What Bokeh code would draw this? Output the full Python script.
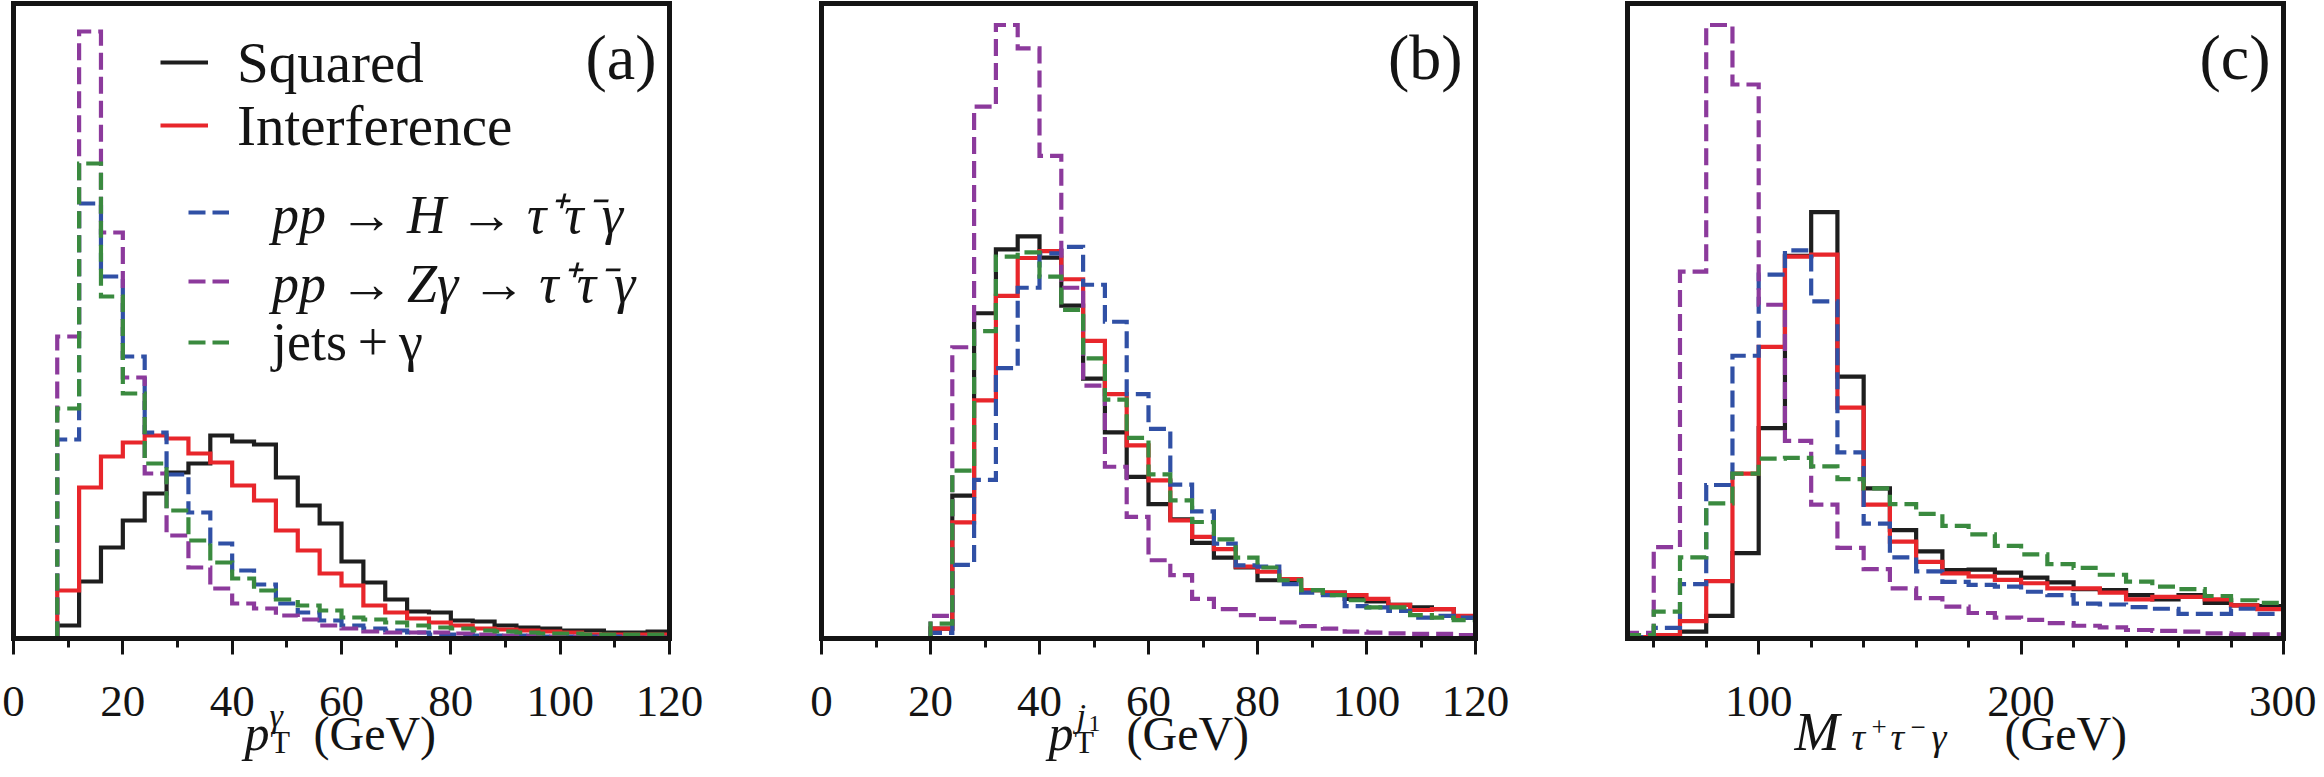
from bokeh.plotting import figure
from bokeh.models import Range1d, FixedTicker, Label, Legend, LegendItem, BoxAnnotation
from bokeh.layouts import row
from bokeh.embed import file_html
from bokeh.resources import INLINE

# ---------------- data (arbitrary units) ----------------
# (a) photon pT, 4 GeV bins from 8 to 120 GeV
a_edges = list(range(8, 124, 4))
a_squared = [13, 57, 91, 118, 145, 166, 175, 203, 197, 194, 161, 133, 115, 77,
             56, 39, 27, 26, 18, 17, 13, 11, 10, 8, 8, 6, 6, 7]
a_interf = [48, 151, 182, 196, 203, 200, 185, 176, 153, 138, 108, 88, 65, 53,
            33, 26, 20, 16, 13, 10, 9, 8, 7, 6, 4, 4, 4, 4]
a_higgs = [199, 435, 362, 282, 206, 164, 126, 95, 68, 54, 35, 26, 18, 13,
           10, 8, 6, 4, 4, 3, 3, 3, 2, 2, 2, 2, 1, 1]
a_zgam = [302, 607, 406, 261, 165, 103, 71, 50, 35, 30, 23, 19, 13, 10,
          7, 6, 6, 6, 5, 4, 3, 3, 2, 2, 2, 1, 1, 1]
a_jets = [230, 475, 342, 245, 175, 128, 98, 76, 60, 48, 39, 33, 28, 21,
          19, 16, 13, 11, 10, 8, 7, 6, 5, 5, 4, 4, 4, 4]

# (b) leading-jet pT, 4 GeV bins from 20 to 120 GeV
b_edges = list(range(20, 124, 4))
b_squared = [23, 336, 765, 915, 946, 896, 783, 611, 485, 380, 316, 280, 225,
             190, 167, 137, 137, 114, 108, 93, 87, 79, 73, 69, 49]
b_interf = [23, 273, 560, 806, 895, 911, 845, 700, 575, 454, 372, 278, 239,
            210, 169, 157, 140, 114, 108, 102, 93, 79, 67, 69, 53]
b_higgs = [13, 173, 373, 636, 825, 906, 921, 832, 745, 575, 493, 362, 299,
           223, 172, 169, 128, 108, 102, 76, 73, 65, 49, 53, 49]
b_zgam = [53, 685, 1251, 1443, 1388, 1135, 825, 595, 404, 286, 184, 149, 93,
          69, 55, 46, 38, 29, 23, 16, 14, 12, 11, 11, 8]
b_jets = [35, 395, 723, 898, 908, 851, 773, 659, 562, 472, 386, 325, 274,
          233, 190, 167, 137, 114, 102, 90, 73, 73, 55, 49, 43]

# (c) M(tau+ tau- gamma), 10 GeV bins from 50 to 300 GeV
c_edges = list(range(50, 310, 10))
c_squared = [2, 3, 16, 53, 201, 495, 900, 1003, 616, 353, 255, 205, 161, 162,
             155, 143, 132, 116, 114, 102, 92, 102, 84, 78, 76]
c_interf = [3, 8, 41, 135, 388, 686, 898, 903, 543, 315, 228, 180, 153, 146,
            138, 130, 118, 118, 108, 92, 98, 98, 92, 78, 69]
c_higgs = [3, 25, 128, 361, 665, 856, 913, 793, 438, 270, 191, 158, 133, 126,
           122, 110, 102, 82, 80, 74, 70, 58, 58, 70, 58]
c_zgam = [13, 215, 863, 1443, 1303, 785, 465, 315, 213, 163, 118, 95, 75, 60,
          49, 44, 36, 30, 26, 20, 18, 16, 12, 10, 10]
c_jets = [8, 63, 191, 318, 388, 423, 425, 405, 375, 353, 316, 293, 265, 245,
          218, 198, 175, 166, 150, 134, 122, 116, 100, 90, 84]

a_ticks = [0, 20, 40, 60, 80, 100, 120]
a_minor = [10, 30, 50, 70, 90, 110]
c_ticks = [100, 200, 300]
c_minor = [60, 80, 120, 140, 160, 180, 220, 240, 260, 280]

labels = ["Squared", "Interference", "pp \u2192 H \u2192 \u03c4\u207a\u03c4\u207b\u03b3",
          "pp \u2192 Z\u03b3 \u2192 \u03c4\u207a\u03c4\u207b\u03b3", "jets\u2009+\u2009\u03b3"]

# ---------------- style / geometry ----------------
FONT = "Liberation Serif"
INK = "#141414"
COLORS = ["#1e1e1e", "#e8262b", "#3050a5", "#8c3a9c", "#3a8a3f"]
DASHES = ["solid", "solid", "17 7", "17 7", "17 7"]
LW = 4.2
PAGE_TOP, PAGE_BOT = 8, 769     # canvas top / bottom (page px)
BASE_Y, BOX_TOP = 646, 11       # x-axis line and top of the box (page px)


def step_xy(edges, vals):
    xs, ys = [edges[0]], [0]
    for i, v in enumerate(vals):
        xs += [edges[i], edges[i + 1]]
        ys += [v, v]
    return xs, ys


def make_panel(edges, series, xr, yscale, ticks, minor, box_l, box_r,
               pad_l, pad_r, left, right):
    ux = (xr[1] - xr[0]) / (box_r - box_l)
    p = figure(frame_width=box_r - box_l + pad_l + pad_r,
               frame_height=PAGE_BOT - PAGE_TOP,
               min_border_left=left, min_border_right=right,
               min_border_top=0, min_border_bottom=0,
               x_range=Range1d(xr[0] - pad_l * ux, xr[1] + pad_r * ux),
               y_range=Range1d(-(PAGE_BOT - BASE_Y) * yscale, (BASE_Y - PAGE_TOP) * yscale),
               y_axis_type=None, title=None, toolbar_location=None,
               output_backend="svg")
    p.background_fill_color = "white"
    p.border_fill_color = "white"
    p.outline_line_color = None
    p.grid.visible = False
    ax = p.xaxis[0]
    ax.fixed_location = 0
    ax.bounds = xr
    ax.ticker = FixedTicker(ticks=ticks, minor_ticks=minor)
    ax.axis_line_color = INK
    ax.axis_line_width = 5
    ax.major_tick_line_width = 3
    ax.minor_tick_line_width = 3
    ax.major_tick_line_color = INK
    ax.minor_tick_line_color = INK
    ax.major_tick_in = 0
    ax.major_tick_out = 16
    ax.minor_tick_in = 0
    ax.minor_tick_out = 9
    ax.major_label_text_font = FONT
    ax.major_label_text_font_size = "45px"
    ax.major_label_text_color = INK
    ax.major_label_standoff = 32
    rends = []
    for vals, col, dash in zip(series, COLORS, DASHES):
        xs, ys = step_xy(edges, vals)
        r = p.line(xs, ys, line_color=col, line_width=LW, line_dash=dash,
                   line_join="miter")
        rends.append(r)
    p.add_layout(BoxAnnotation(left=xr[0], right=xr[1], bottom=0,
                               top=(BASE_Y - BOX_TOP) * yscale, fill_alpha=0,
                               line_color=INK, line_alpha=1.0, line_width=5,
                               line_join="miter"))
    return p, rends, box_l - pad_l


def add_text(p, f_left, text, px, py, size, style="normal", align="left"):
    """px, py are page pixels (py = vertical middle of the text)."""
    p.add_layout(Label(x=px - f_left, y=PAGE_BOT - py, x_units="screen",
                       y_units="screen", text=text, text_font=FONT,
                       text_font_size=f"{size}px", text_font_style=style,
                       text_align=align, text_baseline="middle",
                       text_color=INK))


scale_bc = 1510 / 642
pa, ra, fa = make_panel(a_edges, [a_squared, a_interf, a_higgs, a_zgam, a_jets],
                        (0, 120), 1.0, a_ticks, a_minor, 21, 677, 13, 36, 0, 51)
pb, rb, fb = make_panel(b_edges, [b_squared, b_interf, b_higgs, b_zgam, b_jets],
                        (0, 120), scale_bc, a_ticks, a_minor, 829, 1483, 13, 36, 52, 51)
pc, rc, fc = make_panel(c_edges, [c_squared, c_interf, c_higgs, c_zgam, c_jets],
                        (50, 300), scale_bc, c_ticks, c_minor, 1635, 2291, 13, 33, 52, 0)

# legends (panel a): (series, line start px, line centre y px, length, standoff, size, style)
leg_specs = [
    (0, 168, 70, 48, 29, 57, "normal"),
    (1, 168, 133, 48, 29, 57, "normal"),
    (2, 196, 220, 41, 43, 54, "italic"),
    (3, 196, 289, 41, 43, 54, "italic"),
    (4, 196, 350, 41, 43, 54, "normal"),
]
for idx, x0, yc, gw, so, fs, style in leg_specs:
    lg = Legend(items=[LegendItem(label=labels[idx], renderers=[ra[idx]])],
                location=(x0 - fa, (PAGE_BOT - yc) - 40), padding=0, margin=0,
                spacing=0, glyph_width=gw, glyph_height=80, label_height=80,
                label_standoff=so, label_text_font=FONT,
                label_text_font_size=f"{fs}px", label_text_font_style=style,
                label_text_color=INK, border_line_color=None,
                background_fill_alpha=0)
    pa.add_layout(lg)

# panel tags
add_text(pa, fa, "(a)", 677 - 13, 65, 64, align="right")
add_text(pb, fb, "(b)", 1483 - 13, 65, 64, align="right")
add_text(pc, fc, "(c)", 2291 - 13, 65, 64, align="right")

# axis titles built from pieces (page px: left edge, vertical middle)
add_text(pa, fa, "p", 252, 740, 50, "italic")
add_text(pa, fa, "\u03b3", 277, 723, 34, "italic")
add_text(pa, fa, "T", 278, 749, 32)
add_text(pa, fa, "(GeV)", 321, 741, 48)

add_text(pb, fb, "p", 1056, 740, 50, "italic")
add_text(pb, fb, "j", 1084, 723, 34, "italic")
add_text(pb, fb, "1", 1096, 731, 24)
add_text(pb, fb, "T", 1082, 749, 32)
add_text(pb, fb, "(GeV)", 1134, 741, 48)

add_text(pc, fc, "M", 1802, 739, 54, "italic")
add_text(pc, fc, "\u03c4", 1859, 744, 38, "italic")
add_text(pc, fc, "+", 1879, 734, 27)
add_text(pc, fc, "\u03c4", 1898, 744, 38, "italic")
add_text(pc, fc, "\u2212", 1918, 734, 27)
add_text(pc, fc, "\u03b3", 1939, 744, 38, "italic")
add_text(pc, fc, "(GeV)", 2012, 741, 48)

layout = row(pa, pb, pc)
open("out.html", "w").write(file_html(layout, INLINE, "histograms"))
